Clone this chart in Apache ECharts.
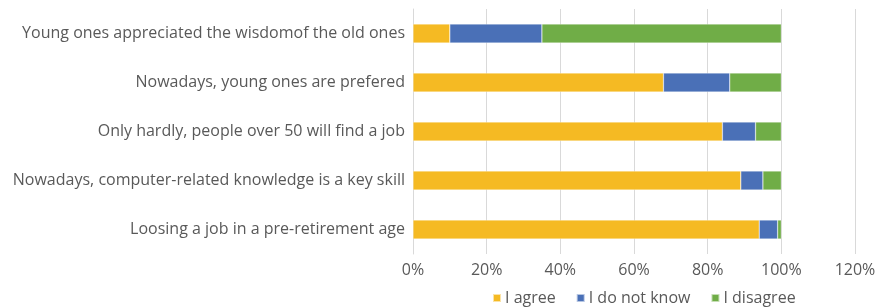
<!DOCTYPE html>
<html><head><meta charset="utf-8">
<script src="https://cdn.jsdelivr.net/npm/echarts@6/dist/echarts.min.js"></script>
<style>html,body{margin:0;padding:0;background:#fff}#c{width:879px;height:308px}</style>
</head><body><div id="c"></div>
<script>
const categories = [
  "Young ones appreciated the wisdomof the old ones",
  "Nowadays, young ones are prefered",
  "Only hardly, people over 50 will find a job",
  "Nowadays, computer-related knowledge is a key skill",
  "Loosing a job in a pre-retirement age"
];
const agree = [10, 68, 84, 89, 94];
const dontKnow = [25, 18, 9, 6, 5];
const disagree = [65, 14, 7, 5, 1];
const xTicks = [0, 20, 40, 60, 80, 100, 120];

const font = "Open Sans";
const chart = echarts.init(document.getElementById('c'));
const mk = (name, data, color) => ({
  name, type: 'bar', stack: 'a', data, barWidth: 19,
  itemStyle: { color, borderColor: 'rgba(255,255,255,0.6)', borderWidth: 0.5 }
});
chart.setOption({
  animation: false,
  textStyle: { fontFamily: font },
  grid: { left: 413, right: 24, top: 9, bottom: 54, containLabel: false },
  xAxis: {
    type: 'value', min: xTicks[0], max: xTicks[xTicks.length - 1], interval: 20,
    axisLabel: { formatter: v => v + '%', color: '#595959', fontSize: 16, fontFamily: font, margin: 8 },
    axisLine: { show: false }, axisTick: { show: false },
    splitLine: { lineStyle: { color: '#d9d9d9', width: 1 } }
  },
  yAxis: {
    type: 'category', data: categories, inverse: true,
    axisLabel: { color: '#595959', fontSize: 16, fontFamily: font, margin: 8 },
    axisLine: { lineStyle: { color: '#d9d9d9' } }, axisTick: { show: false }
  },
  legend: {
    top: 285, left: 487, itemWidth: 8, itemHeight: 8, itemGap: 20,
    icon: 'rect',
    textStyle: { color: '#595959', fontSize: 16, fontFamily: font, padding: [0, 0, 0, -1] },
    data: ['I agree', 'I do not know', 'I disagree']
  },
  series: [
    mk('I agree', agree, '#F5BA23'),
    mk('I do not know', dontKnow, '#4A70B7'),
    mk('I disagree', disagree, '#70AD47')
  ]
});
</script></body></html>
